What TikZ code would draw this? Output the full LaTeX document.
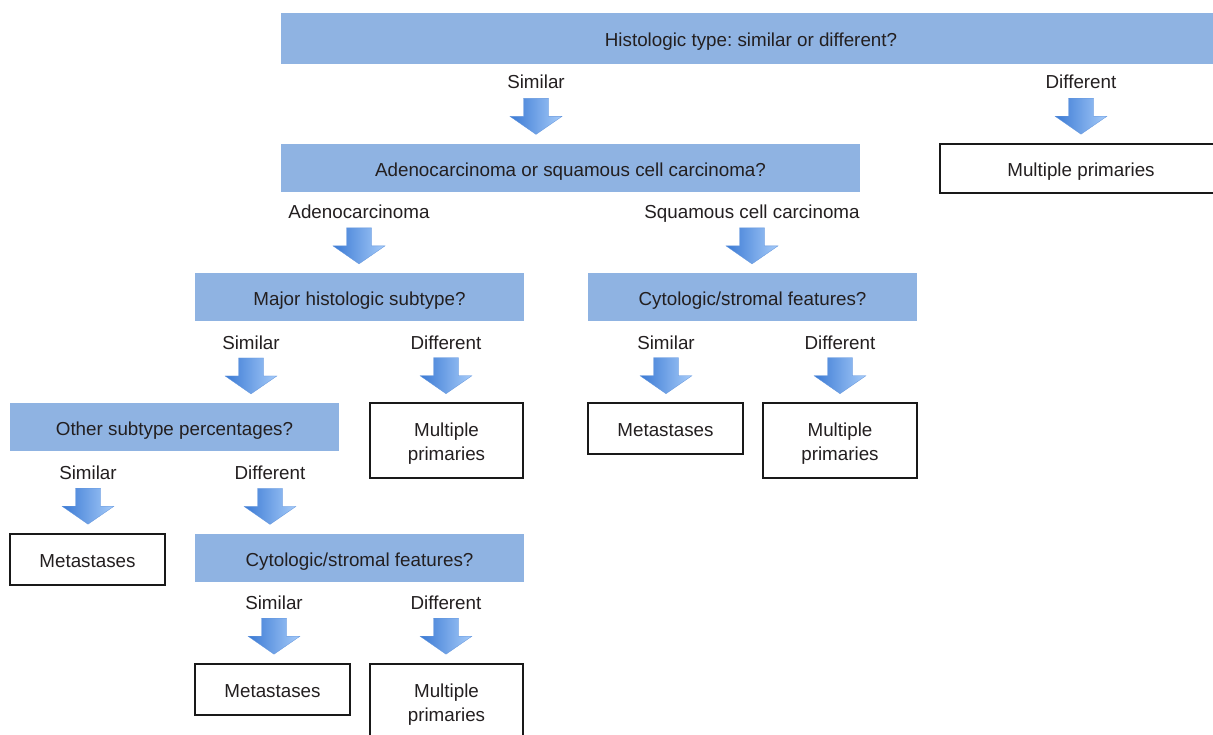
\documentclass[tikz,border=0pt]{standalone}
\usepackage{fontspec}
\setmainfont{Liberation Sans}
\frenchspacing
\usetikzlibrary{calc}
\definecolor{qblue}{HTML}{8FB3E2}
\definecolor{arrL}{HTML}{3B7AD4}
\definecolor{arrR}{HTML}{A6CBF9}
\definecolor{txt}{HTML}{231F20}
\newcommand{\barrow}[2]{%
  \coordinate (m) at ($(#1.base)!0.5!(#1.base|-#2.north)$);
  \shade[arrowshade] ([shift={(-12.5pt,18pt)}]m) -- ([shift={(12.5pt,18pt)}]m)
    -- ([shift={(12.5pt,0pt)}]m) -- ([shift={(26pt,0pt)}]m)
    -- ([shift={(0pt,-18pt)}]m) -- ([shift={(-26pt,0pt)}]m)
    -- ([shift={(-12.5pt,0pt)}]m) -- cycle;}
\begin{document}
\begin{tikzpicture}[x=1pt,y=1pt,
  every node/.style={font=\fontsize{18.8}{24}\selectfont\frenchspacing, text=txt},
  qbox/.style={fill=qblue, draw=none, inner sep=0pt, minimum height=#1, text height=17pt, text depth=0.5pt},
  qbox/.default=48pt,
  abox/.style={fill=white, draw=black!90, line width=1.2pt, inner sep=0pt, text height=17pt, text depth=0.5pt},
  mbox/.style={fill=white, draw=black!90, line width=1.2pt, inner sep=0pt, minimum height=75pt,
    label={[yshift=-3.5pt, align=center, inner sep=0pt]center:Multiple\\primaries}},
  lab/.style={anchor=base, inner sep=0pt},
  arrowshade/.style={left color=arrL, right color=arrR, draw=arrL!80!white, line width=0.3pt}]
\clip (0,0) rectangle (1213,-735);
\fill[white] (0,0) rectangle (1213,-735);
% boxes
\node[qbox=51pt, minimum width=940pt] (top) at (751,-38.5) {Histologic type: similar or different?};
\node[abox, minimum width=282pt, minimum height=49pt] (mpA) at (1081,-168.5) {Multiple primaries};
\node[qbox, minimum width=579pt] (adq) at (570.5,-168) {Adenocarcinoma or squamous cell carcinoma?};
\node[qbox, minimum width=329pt] (maj) at (359.5,-297) {Major histologic subtype?};
\node[qbox, minimum width=329pt] (cyA) at (752.5,-297) {Cytologic/stromal features?};
\node[qbox, minimum width=329pt] (oth) at (174.5,-427) {Other subtype percentages?};
\node[mbox, minimum width=153pt] (mpB) at (446.5,-440.5) {};
\node[abox, minimum width=155pt, minimum height=51pt] (meA) at (665.5,-428.5) {Metastases};
\node[mbox, minimum width=154pt] (mpC) at (840,-440.5) {};
\node[abox, minimum width=155pt, minimum height=51pt] (meB) at (87.5,-559.5) {Metastases};
\node[qbox, minimum width=329pt] (cyB) at (359.5,-558) {Cytologic/stromal features?};
\node[abox, minimum width=155pt, minimum height=51pt] (meC) at (272.5,-689.5) {Metastases};
\node[mbox, minimum width=153pt] (mpD) at (446.5,-701.5) {};
% labels
\node[lab] (l1) at (536,-89) {Similar};
\node[lab] (l2) at (1081,-89) {Different};
\node[lab] (l3) at (359,-219) {Adenocarcinoma};
\node[lab] (l4) at (752,-219) {Squamous cell carcinoma};
\node[lab] (l5) at (251,-349) {Similar};
\node[lab] (l6) at (446,-349) {Different};
\node[lab] (l7) at (666,-349) {Similar};
\node[lab] (l8) at (840,-349) {Different};
\node[lab] (l9) at (88,-479) {Similar};
\node[lab] (l10) at (270,-479) {Different};
\node[lab] (l11) at (274,-609) {Similar};
\node[lab] (l12) at (446,-609) {Different};
% arrows
\barrow{l1}{adq}
\barrow{l2}{mpA}
\barrow{l3}{maj}
\barrow{l4}{cyA}
\barrow{l5}{oth}
\barrow{l6}{mpB}
\barrow{l7}{meA}
\barrow{l8}{mpC}
\barrow{l9}{meB}
\barrow{l10}{cyB}
\barrow{l11}{meC}
\barrow{l12}{mpD}
\end{tikzpicture}
\end{document}
